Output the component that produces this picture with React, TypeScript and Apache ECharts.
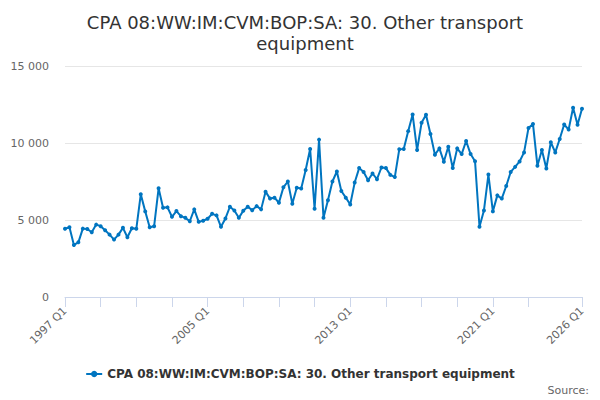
import React, { useRef, useEffect } from "react"
import * as echarts from "echarts"

const seriesName = "CPA 08:WW:IM:CVM:BOP:SA: 30. Other transport equipment"

// 1997 Q1 .. 2026 Q1
const firstYear = 1997
const lastYear = 2026
const quarters: string[] = []
for (let y = firstYear; y <= lastYear; y++) {
  for (let q = 1; q <= 4; q++) {
    if (y === lastYear && q > 1) break
    quarters.push(`${y} Q${q}`)
  }
}

const values = [
  4430, 4530, 3380, 3550, 4440, 4420, 4200, 4700,
  4600, 4330, 4050, 3730, 4050, 4490, 3880, 4460,
  4430, 6670, 5560, 4530, 4600, 7060, 5800, 5820,
  5210, 5580, 5250, 5140, 4920, 5690, 4880, 4950,
  5080, 5400, 5300, 4560, 5100, 5860, 5620, 5140,
  5600, 5860, 5640, 5900, 5690, 6840, 6390, 6450,
  6120, 7120, 7500, 6060, 7100, 7040, 8250, 9610,
  5730, 10220, 5140, 6280, 7500, 8150, 6880, 6450,
  6010, 7430, 8370, 8120, 7580, 8020, 7650, 8410,
  8370, 7930, 7790, 9590, 9610, 10770, 11850, 9540,
  11310, 11830, 10590, 9240, 9650, 8780, 9760, 8370,
  9650, 9280, 10130, 9280, 8820, 4560, 5620, 7950,
  5560, 6600, 6390, 7210, 8120, 8450, 8800, 9390,
  10980, 11240, 8520, 9540, 8350, 10050, 9390, 10260,
  11200, 10870, 12290, 11180, 12220,
]

const yTicks = [0, 5000, 10000, 15000]
const labelQuarters = ["1997 Q1", "2005 Q1", "2013 Q1", "2021 Q1", "2026 Q1"]
const tickStep = 8

const lineColor = "#0075c0"
const fontFamily = "'DejaVu Sans', sans-serif"

export default function App() {
  const chartRef = useRef<HTMLDivElement>(null)

  useEffect(() => {
    if (!chartRef.current) return
    const chart = echarts.init(chartRef.current, undefined, { renderer: "svg" })

    const lastIndex = quarters.length - 1

    const option = {
      animation: false,
      textStyle: { fontFamily },
      title: {
        text: "CPA 08:WW:IM:CVM:BOP:SA: 30. Other transport\nequipment",
        left: 300,
        top: 7,
        textAlign: "center",
        textStyle: {
          fontFamily,
          fontSize: 18,
          fontWeight: "normal",
          color: "#333333",
          lineHeight: 21,
        },
      },
      grid: {
        left: 65,
        right: 18,
        top: 66,
        bottom: 103,
        containLabel: false,
      },
      legend: {
        bottom: 15,
        left: "center",
        itemWidth: 16,
        itemHeight: 8,
        data: [seriesName],
        textStyle: {
          fontFamily,
          fontSize: 12,
          fontWeight: "bold",
          color: "#333333",
        },
      },
      graphic: [
        {
          type: "text",
          right: 11,
          bottom: 4,
          style: {
            text: "Source:",
            fontFamily,
            fontSize: 11,
            fill: "#666666",
          },
        },
      ],
      xAxis: {
        type: "category",
        data: quarters,
        boundaryGap: false,
        axisLine: { lineStyle: { color: "#ccd6eb" } },
        axisTick: {
          length: 10,
          lineStyle: { color: "#ccd6eb" },
          interval: (i: number) =>
            i === lastIndex || (i % tickStep === 0 && lastIndex - i >= tickStep),
        },
        axisLabel: {
          rotate: 45,
          fontFamily,
          fontSize: 11,
          color: "#666666",
          margin: 12,
          interval: (_i: number, v: string) => labelQuarters.includes(v),
        },
        splitLine: { show: false },
      },
      yAxis: {
        type: "value",
        min: yTicks[0],
        max: yTicks[yTicks.length - 1],
        interval: yTicks[1] - yTicks[0],
        axisLine: { show: false },
        axisTick: { show: false },
        axisLabel: {
          fontFamily,
          fontSize: 11,
          color: "#666666",
          margin: 16,
          formatter: (v: number) => String(v).replace(/\B(?=(\d{3})+(?!\d))/g, " "),
        },
        splitLine: { lineStyle: { color: "#e6e6e6" } },
      },
      series: [
        {
          name: seriesName,
          type: "line",
          data: values,
          symbol: "circle",
          symbolSize: 4,
          showSymbol: true,
          showAllSymbol: true,
          lineStyle: { width: 2, color: lineColor },
          itemStyle: { color: lineColor },
        },
      ],
    }

    chart.setOption(option)

    return () => {
      chart.dispose()
    }
  }, [])

  return (
    <div
      ref={chartRef}
      style={{ position: "absolute", left: 0, top: 0, width: 600, height: 400 }}
    />
  )
}
